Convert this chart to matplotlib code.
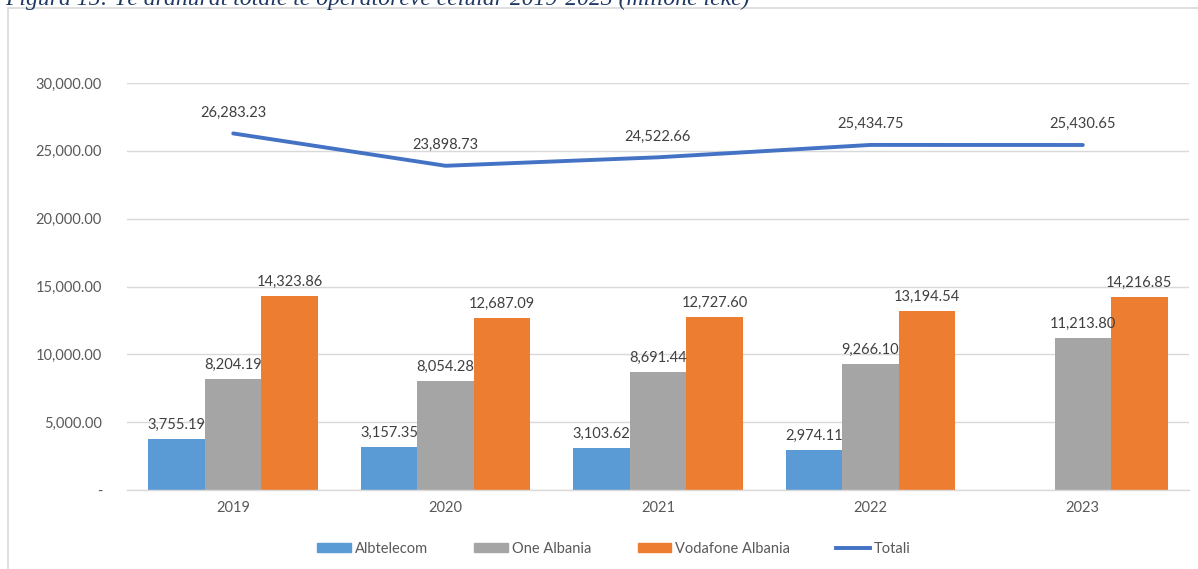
import matplotlib

matplotlib.use("Agg")
import matplotlib.pyplot as plt
import numpy as np
from matplotlib.patches import Rectangle
from matplotlib.lines import Line2D
from matplotlib.patches import Patch

# data (milionë lekë)
years = ["2019", "2020", "2021", "2022", "2023"]
albtelecom = [3755.19, 3157.35, 3103.62, 2974.11, np.nan]
one_albania = [8204.19, 8054.28, 8691.44, 9266.10, 11213.80]
vodafone = [14323.86, 12687.09, 12727.60, 13194.54, 14216.85]
totali = [26283.23, 23898.73, 24522.66, 25434.75, 25430.65]

caption = "Figura 15: Të ardhurat totale të operatorëve celular 2019-2023 (milionë lekë)"

C_ALB = "#5B9BD5"
C_ONE = "#A5A5A5"
C_VOD = "#ED7D31"
C_TOT = "#4472C4"
TXT = "#404040"
GRID = "#D9D9D9"

plt.rcParams["font.family"] = ["Lato", "DejaVu Sans"]

fig = plt.figure(figsize=(11.98, 5.69), dpi=100)
W, H = 1198, 569

# chart frame and the caption, cut off at the top as in the source
fig.patches.append(Rectangle((8 / W, -0.1), 1.2, 1.1 - 8 / H, transform=fig.transFigure,
                             fill=False, edgecolor=GRID, linewidth=1.2, zorder=0))
fig.text(0.004, 1 - 5 / H, caption, fontsize=17, style="italic", color="#1F3864",
         family="Liberation Serif", ha="left", va="baseline")

ax = fig.add_axes([127 / W, 1 - 490 / H, (1189 - 127) / W, (490 - 83) / H])
x = np.arange(len(years))
bw = 0.266

series = [(albtelecom, C_ALB, -bw), (one_albania, C_ONE, 0), (vodafone, C_VOD, bw)]
for vals, col, off in series:
    ax.bar(x + off, vals, width=bw, color=col, edgecolor="none", zorder=2)
    for xi, v in zip(x, vals):
        if np.isnan(v):
            continue
        ax.annotate(f"{v:,.2f}", (xi + off, v), xytext=(0, 5), textcoords="offset points",
                    ha="center", va="bottom", fontsize=10.5, color=TXT)

ax.plot(x, totali, color=C_TOT, linewidth=2.8, zorder=3, solid_capstyle="round")
for xi, v in zip(x, totali):
    ax.annotate(f"{v:,.2f}", (xi, v), xytext=(0, 10), textcoords="offset points",
                ha="center", va="bottom", fontsize=10.5, color=TXT)

ax.set_xlim(-0.5, len(years) - 0.5)
ax.set_ylim(0, 30000)
ax.set_yticks(range(0, 30001, 5000))
ax.set_yticklabels(["-"] + [f"{t:,.2f}" for t in range(5000, 30001, 5000)])
ax.set_xticks(x)
ax.set_xticklabels(years)
ax.tick_params(axis="both", length=0, labelsize=10.5, colors="#595959")
ax.tick_params(axis="y", pad=18)
ax.tick_params(axis="x", pad=8)
ax.grid(axis="y", color=GRID, linewidth=1.0, zorder=0)
ax.set_axisbelow(True)
for s in ("top", "right", "left"):
    ax.spines[s].set_visible(False)
ax.spines["bottom"].set_color(GRID)
ax.spines["bottom"].set_linewidth(1.0)
ax.set_facecolor("none")

handles = [Patch(color=C_ALB), Patch(color=C_ONE), Patch(color=C_VOD),
           Line2D([], [], color=C_TOT, linewidth=2.8)]
labels = ["Albtelecom", "One Albania", "Vodafone Albania", "Totali"]
fig.legend(handles, labels, loc="center", bbox_to_anchor=(0.5125, 1 - 549 / H), ncol=4,
           frameon=False, fontsize=10.5, handlelength=2.3, handleheight=0.6,
           handletextpad=0.25, columnspacing=3.2, labelcolor="#595959")

fig.savefig("out.png", dpi=100)
